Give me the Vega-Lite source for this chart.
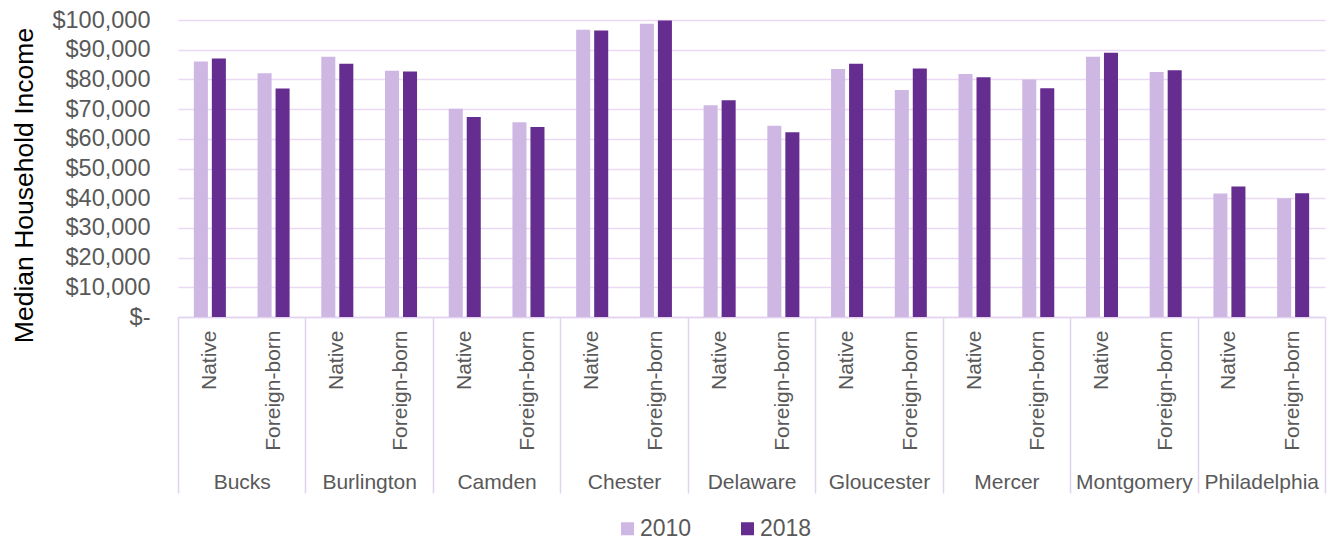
{
  "$schema": "https://vega.github.io/schema/vega-lite/v6.json",
  "width": 1147,
  "height": 297,
  "autosize": "none",
  "padding": {"left": 178, "top": 20, "right": 9, "bottom": 224},
  "background": "white",
  "config": {"view": {"stroke": null}, "font": "Liberation Sans"},
  "data": {
    "values": [
      {"county": "Bucks", "slot": "Bucks|Native", "year": "2010", "income": 86000},
      {"county": "Bucks", "slot": "Bucks|Native", "year": "2018", "income": 87000},
      {"county": "Bucks", "slot": "Bucks|Foreign-born", "year": "2010", "income": 82100},
      {"county": "Bucks", "slot": "Bucks|Foreign-born", "year": "2018", "income": 76900},
      {"county": "Burlington", "slot": "Burlington|Native", "year": "2010", "income": 87600},
      {"county": "Burlington", "slot": "Burlington|Native", "year": "2018", "income": 85300},
      {"county": "Burlington", "slot": "Burlington|Foreign-born", "year": "2010", "income": 82900},
      {"county": "Burlington", "slot": "Burlington|Foreign-born", "year": "2018", "income": 82700},
      {"county": "Camden", "slot": "Camden|Native", "year": "2010", "income": 70100},
      {"county": "Camden", "slot": "Camden|Native", "year": "2018", "income": 67300},
      {"county": "Camden", "slot": "Camden|Foreign-born", "year": "2010", "income": 65600},
      {"county": "Camden", "slot": "Camden|Foreign-born", "year": "2018", "income": 64000},
      {"county": "Chester", "slot": "Chester|Native", "year": "2010", "income": 96700},
      {"county": "Chester", "slot": "Chester|Native", "year": "2018", "income": 96500},
      {"county": "Chester", "slot": "Chester|Foreign-born", "year": "2010", "income": 98700},
      {"county": "Chester", "slot": "Chester|Foreign-born", "year": "2018", "income": 99800},
      {"county": "Delaware", "slot": "Delaware|Native", "year": "2010", "income": 71300},
      {"county": "Delaware", "slot": "Delaware|Native", "year": "2018", "income": 73000},
      {"county": "Delaware", "slot": "Delaware|Foreign-born", "year": "2010", "income": 64400},
      {"county": "Delaware", "slot": "Delaware|Foreign-born", "year": "2018", "income": 62200},
      {"county": "Gloucester", "slot": "Gloucester|Native", "year": "2010", "income": 83500},
      {"county": "Gloucester", "slot": "Gloucester|Native", "year": "2018", "income": 85300},
      {"county": "Gloucester", "slot": "Gloucester|Foreign-born", "year": "2010", "income": 76400},
      {"county": "Gloucester", "slot": "Gloucester|Foreign-born", "year": "2018", "income": 83700},
      {"county": "Mercer", "slot": "Mercer|Native", "year": "2010", "income": 81800},
      {"county": "Mercer", "slot": "Mercer|Native", "year": "2018", "income": 80700},
      {"county": "Mercer", "slot": "Mercer|Foreign-born", "year": "2010", "income": 80000},
      {"county": "Mercer", "slot": "Mercer|Foreign-born", "year": "2018", "income": 77000},
      {"county": "Montgomery", "slot": "Montgomery|Native", "year": "2010", "income": 87600},
      {"county": "Montgomery", "slot": "Montgomery|Native", "year": "2018", "income": 89000},
      {"county": "Montgomery", "slot": "Montgomery|Foreign-born", "year": "2010", "income": 82500},
      {"county": "Montgomery", "slot": "Montgomery|Foreign-born", "year": "2018", "income": 83100},
      {"county": "Philadelphia", "slot": "Philadelphia|Native", "year": "2010", "income": 41600},
      {"county": "Philadelphia", "slot": "Philadelphia|Native", "year": "2018", "income": 43900},
      {"county": "Philadelphia", "slot": "Philadelphia|Foreign-born", "year": "2010", "income": 40000},
      {"county": "Philadelphia", "slot": "Philadelphia|Foreign-born", "year": "2018", "income": 41700}
    ]
  },
  "layer": [
    {
      "mark": {"type": "bar"},
      "encoding": {
        "x": {
          "field": "slot",
          "type": "nominal",
          "sort": null,
          "scale": {"paddingInner": 0, "paddingOuter": 0},
          "axis": {
            "title": null,
            "labelExpr": "split(datum.label, '|')[1]",
            "labelAngle": 270,
            "labelFontSize": 21,
            "labelColor": "#595959",
            "labelPadding": 13,
            "ticks": false,
            "domainColor": "#E2D3EE",
            "domainWidth": 1.5,
            "grid": false
          }
        },
        "xOffset": {
          "field": "year",
          "type": "nominal",
          "scale": {"paddingInner": 0.22, "paddingOuter": 0.88}
        },
        "y": {
          "field": "income",
          "type": "quantitative",
          "scale": {"domain": [0, 100000], "nice": false},
          "axis": {
            "title": "Median Household Income",
            "values": [0, 10000, 20000, 30000, 40000, 50000, 60000, 70000, 80000, 90000, 100000],
            "labelExpr": "datum.value == 0 ? '$-  ' : format(datum.value, '$,')",
            "labelFontSize": 23.5,
            "labelColor": "#595959",
            "labelPadding": 28,
            "ticks": false,
            "domain": false,
            "gridColor": "#EAD9F4",
            "gridWidth": 1.5,
            "titleFontSize": 26.5,
            "titleColor": "#000000",
            "titleFontWeight": "normal",
            "titleAngle": 270,
            "titleX": -146,
            "titleY": 165,
            "titleAlign": "center",
            "titleBaseline": "alphabetic"
          }
        },
        "color": {
          "field": "year",
          "type": "nominal",
          "scale": {"domain": ["2010", "2018"], "range": ["#CFB7E4", "#652D90"]},
          "legend": {
            "title": null,
            "orient": "none",
            "direction": "horizontal",
            "legendX": 438,
            "legendY": 497,
            "symbolType": "square",
            "symbolSize": 169,
            "symbolStrokeWidth": 0,
            "labelFontSize": 23,
            "labelColor": "#595959",
            "labelOffset": 1,
            "columnPadding": 44
          }
        }
      }
    },
    {
      "mark": {"type": "point", "opacity": 0},
      "encoding": {
        "x": {
          "field": "county",
          "type": "nominal",
          "sort": null,
          "scale": {"type": "band", "paddingInner": 0, "paddingOuter": 0},
          "axis": {
            "title": null,
            "orient": "bottom",
            "domain": false,
            "grid": false,
            "tickBand": "extent",
            "tickSize": 176,
            "tickColor": "#E2D3EE",
            "tickWidth": 1.5,
            "labelAngle": 0,
            "labelFontSize": 21,
            "labelColor": "#595959",
            "labelBaseline": "alphabetic",
            "labelPadding": -5
          }
        }
      }
    }
  ],
  "resolve": {"scale": {"x": "independent"}, "axis": {"x": "independent"}}
}
